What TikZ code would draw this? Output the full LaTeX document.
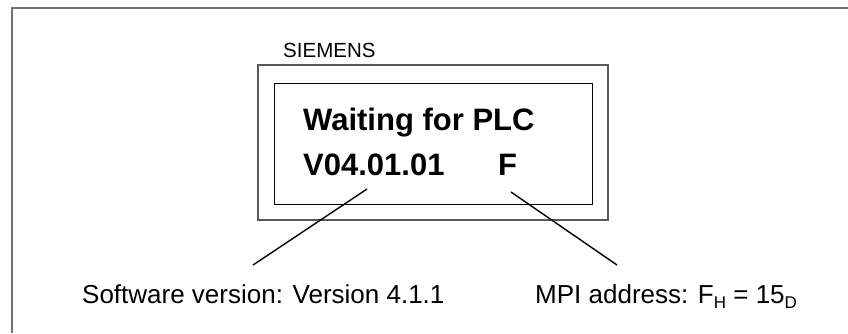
\documentclass[tikz,border=0pt]{standalone}
\usepackage{fontspec}
\setmainfont{Liberation Sans}
\usetikzlibrary{positioning}
\newcommand{\pedice}[1]{\raisebox{-5pt}{\fontsize{17}{17}\selectfont #1}}

\begin{document}
\begin{tikzpicture}[x=1pt, y=-1pt,
        testo/.style={anchor=base west, inner sep=0pt, font=\fontsize{26}{26}\selectfont},
        display/.style={anchor=base west, inner sep=0pt, font=\fontsize{31}{31}\selectfont\bfseries},
        richiamo/.style={line width=1.4pt}]
        \useasboundingbox (0,0) rectangle (848,333);
        %cornice esterna
        \draw[black!55, line width=1.6pt] (12,333) -- (12,8) -- (848,8);
        %pannello operatore
        \draw[black!65, line width=1.2pt] (258,65) rectangle (608,220);
        \draw[line width=0.9pt] (274,83) rectangle (592,204);
        \node (marchio) at (283,57)[testo, font=\fontsize{20.5}{20.5}\selectfont]{SIEMENS};
        %testo del display
        \node (attesa) at (303,130)[display]{Waiting for PLC};
        \node (versione) at (303,175)[display]{V04.01.01};
        \node (indirizzo) at (498,175)[display]{F};
        %etichette
        \node (etsw) at (82,303)[testo]{Software version: Version 4.1.1};
        \node (etmpi) at (535,303)[testo]{MPI address: F\pedice{H} = 15\pedice{D}};
        %linee di richiamo
        \coordinate (v1) at (367,189);
        \coordinate (v2) at (253,265);
        \coordinate (f1) at (511,192);
        \coordinate (f2) at (617,265);
        \draw[richiamo] (v1) -- (v2);
        \draw[richiamo] (f1) -- (f2);
    \end{tikzpicture}
\end{document}
